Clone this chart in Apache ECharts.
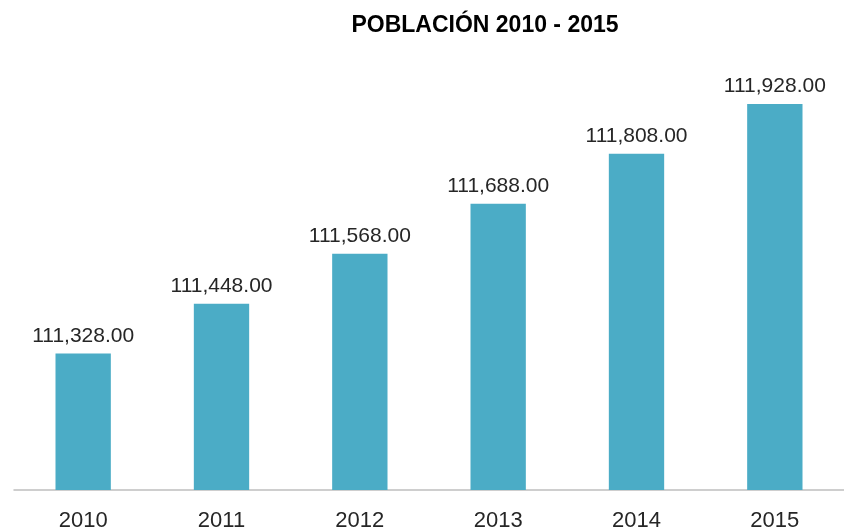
<!DOCTYPE html>
<html>
<head>
<meta charset="utf-8">
<script src="https://cdn.jsdelivr.net/npm/echarts@6/dist/echarts.min.js"></script>
<style>
html,body{margin:0;padding:0;background:#fff;}
#chart{width:844px;height:532px;}
</style>
</head>
<body>
<div id="chart"></div>
<script>
const categories = ['2010', '2011', '2012', '2013', '2014', '2015'];
const poblacion = [111328, 111448, 111568, 111688, 111808, 111928];
const titleText = 'POBLACIÓN 2010 - 2015';

function fmt(v) {
  const parts = v.toFixed(2).split('.');
  parts[0] = parts[0].replace(/\B(?=(\d{3})+(?!\d))/g, ',');
  return parts.join('.');
}

const chart = echarts.init(document.getElementById('chart'));
chart.setOption({
  animation: false,
  backgroundColor: '#ffffff',
  title: {
    text: titleText,
    left: 480,
    top: 9,
    textAlign: 'center',
    textStyle: {
      fontFamily: 'Liberation Sans, Arial, sans-serif',
      fontWeight: 'bold',
      fontSize: 23,
      color: '#000000'
    }
  },
  grid: { left: 14, width: 841, top: 74, bottom: 41.5, containLabel: false },
  xAxis: {
    type: 'category',
    data: categories,
    axisLine: { show: true, lineStyle: { color: '#bfbfbf', width: 1.5 } },
    axisTick: { show: false },
    axisLabel: {
      margin: 20,
      fontFamily: 'Liberation Sans, Arial, sans-serif',
      fontSize: 22,
      color: '#262626'
    }
  },
  yAxis: {
    type: 'value',
    min: 111000,
    max: 112000,
    show: false,
    splitLine: { show: false }
  },
  series: [{
    type: 'bar',
    data: poblacion,
    barWidth: '40%',
    itemStyle: { color: '#4BACC6' },
    label: {
      show: true,
      position: 'top',
      distance: 7,
      formatter: p => fmt(p.value),
      fontFamily: 'Liberation Sans, Arial, sans-serif',
      fontSize: 21,
      color: '#262626'
    }
  }]
});
</script>
</body>
</html>
